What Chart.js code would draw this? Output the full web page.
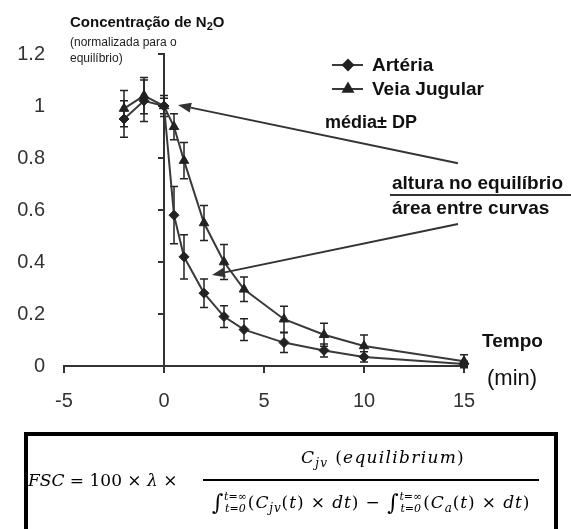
<!DOCTYPE html>
<html>
<head>
<meta charset="utf-8">
<script src="https://cdn.jsdelivr.net/npm/chart.js@4.4.1/dist/chart.umd.min.js"></script>
<style>
  html, body { margin: 0; padding: 0; background: #fff; }
  #wrap { position: relative; width: 571px; height: 529px; overflow: hidden;
          font-family: "Liberation Sans", Arial, sans-serif; color: #111; }
  #c { position: absolute; left: 0; top: 0; }
  .t { position: absolute; white-space: nowrap; }
  .b { font-weight: bold; }
  #title sub { font-size: 11px; vertical-align: -3px; line-height: 0; }
  #fracline { position: absolute; left: 390px; top: 194px; width: 181px; height: 2px; background: #333; }
  #box { position: absolute; left: 24px; top: 432px; width: 526px; height: 120px; border: 4px solid #000; }
  .m { position: absolute; white-space: nowrap; font-family: "DejaVu Serif", "Liberation Serif", serif;
       font-size: 17px; line-height: 20px; color: #000; }
  .m i { font-style: italic; }
  .m sub { font-size: 12px; vertical-align: -4px; line-height: 0; }
  .lim { display: inline-block; vertical-align: middle; font-size: 11px; line-height: 12px; font-style: italic;
         margin-left: 0px; margin-right: 1px; letter-spacing: 0; }
  .lim span { display: block; }
  .int { font-size: 22px; vertical-align: -2px; line-height: 0; }
  #fbar { position: absolute; left: 203px; top: 479px; width: 336px; height: 2px; background: #000; }
  #den { width: 336px; text-align: center; letter-spacing: 0.9px; }
</style>
</head>
<body>
<div id="wrap">
  <canvas id="c" width="571" height="529"></canvas>

  <div class="t b" id="title" style="left:70px;top:13px;font-size:15px;line-height:18px;">Concentração de N<sub>2</sub>O</div>
  <div class="t" style="left:70px;top:35px;font-size:12px;line-height:15px;color:#222;">(normalizada para o</div>
  <div class="t" style="left:70px;top:51px;font-size:12px;line-height:15px;color:#222;">equilíbrio)</div>

  <div class="t b" id="leg1" style="left:372px;top:55px;font-size:19px;line-height:20px;"></div>
  <div class="t b" id="leg2" style="left:372px;top:79px;font-size:19px;line-height:20px;"></div>
  <div class="t b" style="left:325px;top:112px;font-size:18px;line-height:20px;">média± DP</div>

  <div class="t b" style="left:392px;top:173px;font-size:19px;line-height:20px;">altura no equilíbrio</div>
  <div id="fracline"></div>
  <div class="t b" style="left:392px;top:198px;font-size:19px;line-height:20px;">área entre curvas</div>

  <div class="t b" style="left:482px;top:331px;font-size:19px;line-height:20px;">Tempo</div>
  <div class="t" style="left:487px;top:367px;font-size:22px;line-height:22px;">(min)</div>

  <div id="box"></div>
  <div class="m" style="left:28px;top:470px;word-spacing:0px;"><i>FSC</i> = 100 × <i>λ</i> ×</div>
  <div class="m" style="left:301px;top:447px;letter-spacing:1.3px;"><i>C<sub>jv</sub></i> (<i>equilibrium</i>)</div>
  <div id="fbar"></div>
  <div class="m" id="den" style="left:203px;top:491px;"><span class="int">∫</span><span class="lim"><span>t=∞</span><span>t=0</span></span>(<i>C<sub>jv</sub></i>(<i>t</i>) × <i>dt</i>) − <span class="int">∫</span><span class="lim"><span>t=∞</span><span>t=0</span></span>(<i>C<sub>a</sub></i>(<i>t</i>) × <i>dt</i>)</div>
</div>

<script>
// Sampling times (min) and normalised N2O concentration, mean and SD
const times      = [-2, -1, 0, 0.5, 1, 2, 3, 4, 6, 8, 10, 15];
const arteria    = [0.95, 1.02, 1.00, 0.58, 0.42, 0.28, 0.19, 0.14, 0.09, 0.06, 0.035, 0.008];
const arteriaSD  = [0.07, 0.08, 0.04, 0.11, 0.085, 0.055, 0.042, 0.042, 0.038, 0.025, 0.02, 0.01];
const veia       = [0.99, 1.04, 1.00, 0.92, 0.79, 0.55, 0.40, 0.295, 0.18, 0.12, 0.077, 0.018];
const veiaSD     = [0.07, 0.07, 0.03, 0.05, 0.07, 0.067, 0.067, 0.047, 0.05, 0.044, 0.042, 0.025];
const seriesNames = ['Artéria', 'Veia Jugular'];
const xTicks = [-5, 0, 5, 10, 15];
const yTicks = [0, 0.2, 0.4, 0.6, 0.8, 1, 1.2];
const yTickLabels = ['0', '0.2', '0.4', '0.6', '0.8', '1', '1.2'];

// Annotation arrows, in data units: tail -> head
const arrows = [
  { from: [14.7, 0.78],  to: [0.7, 1.004] },
  { from: [14.7, 0.546], to: [2.4, 0.35] }
];

document.getElementById('leg1').textContent = seriesNames[0];
document.getElementById('leg2').textContent = seriesNames[1];

const INK = '#222';
const LINE = '#3a3a3a';

const toPoints = (vals) => times.map((t, i) => ({ x: t, y: vals[i] }));

const extras = {
  id: 'extras',
  beforeDatasetsDraw(chart) {
    const { ctx, scales: { x, y } } = chart;
    ctx.save();
    // vertical axis at t = 0 with its tick marks
    ctx.strokeStyle = '#333';
    ctx.lineWidth = 2;
    const x0 = Math.round(x.getPixelForValue(0));
    ctx.beginPath();
    ctx.moveTo(x0, y.getPixelForValue(0));
    ctx.lineTo(x0, y.getPixelForValue(yTicks[yTicks.length - 1]) - 1);
    yTicks.forEach(v => {
      if (v === 0) return;
      const py = Math.round(y.getPixelForValue(v));
      ctx.moveTo(x0 - 6, py);
      ctx.lineTo(x0 + 1, py);
    });
    ctx.stroke();

    // error bars (mean ± SD)
    ctx.strokeStyle = INK;
    ctx.lineWidth = 1.5;
    [[arteria, arteriaSD], [veia, veiaSD]].forEach(([vals, sds]) => {
      times.forEach((t, i) => {
        const px = x.getPixelForValue(t);
        const top = y.getPixelForValue(vals[i] + sds[i]);
        const bot = y.getPixelForValue(vals[i] - sds[i]);
        ctx.beginPath();
        ctx.moveTo(px, top); ctx.lineTo(px, bot);
        ctx.moveTo(px - 4, top); ctx.lineTo(px + 4, top);
        ctx.moveTo(px - 4, bot); ctx.lineTo(px + 4, bot);
        ctx.stroke();
      });
    });
    ctx.restore();
  },
  afterDatasetsDraw(chart) {
    const { ctx, scales: { x, y } } = chart;
    ctx.save();
    ctx.strokeStyle = '#333';
    ctx.fillStyle = '#333';
    ctx.lineWidth = 2;
    arrows.forEach(a => {
      const x1 = x.getPixelForValue(a.from[0]), y1 = y.getPixelForValue(a.from[1]);
      const x2 = x.getPixelForValue(a.to[0]),   y2 = y.getPixelForValue(a.to[1]);
      const ang = Math.atan2(y2 - y1, x2 - x1);
      const L = 13, W = 5;
      const bx = x2 - L * Math.cos(ang), by = y2 - L * Math.sin(ang);
      ctx.beginPath();
      ctx.moveTo(x1, y1); ctx.lineTo(bx, by);
      ctx.stroke();
      ctx.beginPath();
      ctx.moveTo(x2, y2);
      ctx.lineTo(bx + W * Math.sin(ang), by - W * Math.cos(ang));
      ctx.lineTo(bx - W * Math.sin(ang), by + W * Math.cos(ang));
      ctx.closePath();
      ctx.fill();
    });
    ctx.restore();
  },
  afterDraw(chart) {
    // legend samples
    const { ctx } = chart;
    ctx.save();
    const rows = [
      { y: 65, style: 'rectRot', r: 5 },
      { y: 89, style: 'triangle', r: 5.5 }
    ];
    rows.forEach(row => {
      ctx.strokeStyle = LINE;
      ctx.lineWidth = 2;
      ctx.beginPath();
      ctx.moveTo(332, row.y); ctx.lineTo(363, row.y);
      ctx.stroke();
      ctx.fillStyle = INK;
      ctx.strokeStyle = INK;
      Chart.helpers.drawPoint(ctx, { pointStyle: row.style, radius: row.r, borderWidth: 1, rotation: 0 }, 348, row.y);
    });
    ctx.restore();
  }
};

new Chart(document.getElementById('c'), {
  type: 'line',
  data: {
    datasets: [
      {
        label: seriesNames[0],
        data: toPoints(arteria),
        borderColor: LINE, borderWidth: 2,
        pointStyle: 'rectRot', pointRadius: 5,
        pointBackgroundColor: INK, pointBorderColor: INK, pointBorderWidth: 1,
        tension: 0, clip: false
      },
      {
        label: seriesNames[1],
        data: toPoints(veia),
        borderColor: LINE, borderWidth: 2,
        pointStyle: 'triangle', pointRadius: 5.5,
        pointBackgroundColor: INK, pointBorderColor: INK, pointBorderWidth: 1,
        tension: 0, clip: false
      }
    ]
  },
  options: {
    responsive: false,
    animation: false,
    events: [],
    layout: { padding: { left: 0, top: 54, right: 107, bottom: 113 } },
    plugins: { legend: { display: false }, tooltip: { enabled: false } },
    scales: {
      x: {
        type: 'linear', min: -5, max: 15,
        afterBuildTicks: s => { s.ticks = xTicks.map(v => ({ value: v })); },
        afterFit: s => { s.height = 50; },
        grid: { drawOnChartArea: false, drawTicks: true, tickLength: 7, color: '#333', lineWidth: 2 },
        border: { display: true, color: '#333', width: 2 },
        ticks: { color: '#333', padding: 16, font: { family: 'Liberation Sans', size: 20 }, maxRotation: 0 }
      },
      y: {
        min: 0, max: 1.2,
        afterBuildTicks: s => { s.ticks = yTicks.map(v => ({ value: v })); },
        afterFit: s => { s.width = 64; },
        grid: { display: false, drawTicks: false },
        border: { display: false },
        ticks: {
          color: '#333', padding: 19, font: { family: 'Liberation Sans', size: 20 },
          callback: (v, i) => yTickLabels[i]
        }
      }
    }
  },
  plugins: [extras]
});
</script>
</body>
</html>
